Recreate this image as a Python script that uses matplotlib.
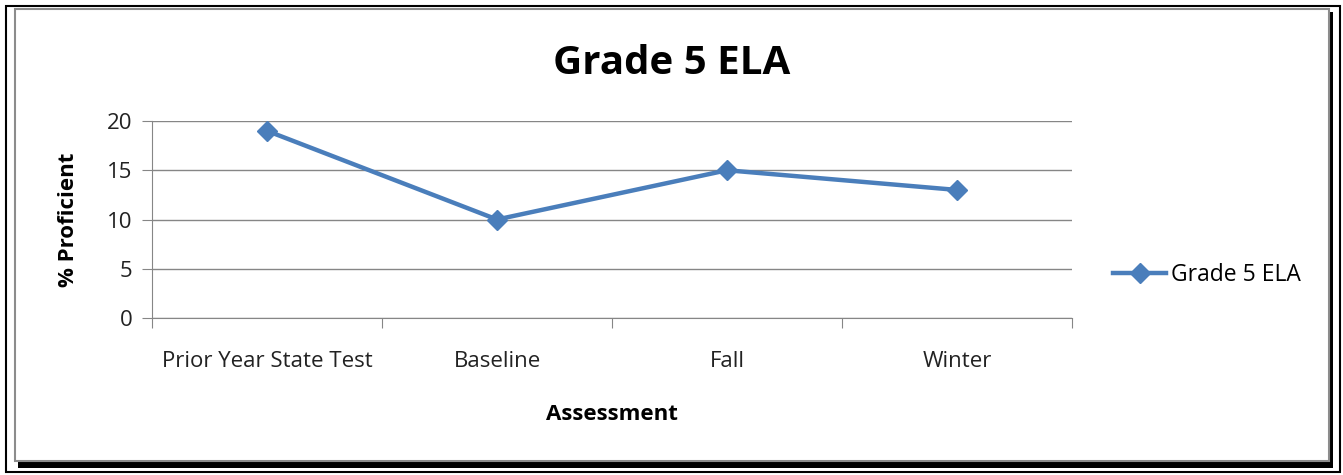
import numpy as np
import matplotlib.pyplot as plt
from matplotlib.patches import Rectangle

# chart data
assessments = ['Prior Year State Test', 'Baseline', 'Fall', 'Winter']
pct_proficient = [19, 10, 15, 13]
y_ticks = [0, 5, 10, 15, 20]

W, H = 1343, 475
line_color = '#4A7EBB'
grid_color = '#868686'
plt.rcParams['font.family'] = ['Open Sans', 'DejaVu Sans']

fig = plt.figure(figsize=(W / 100, H / 100), dpi=100)


def px_box(x0, y0, x1, y1):
    # pixel coords (top-left origin) -> figure fraction
    return [x0 / W, 1 - y1 / H, (x1 - x0) / W, (y1 - y0) / H]


def add_rect(x0, y0, x1, y1, **kw):
    l, b, w, h = px_box(x0, y0, x1, y1)
    fig.add_artist(Rectangle((l, b), w, h, transform=fig.transFigure,
                             zorder=-10, **kw))


# frame: outer black line, shadow, inner gray box
add_rect(6, 6, 1340, 472, fill=False, edgecolor='black', linewidth=1.5)
add_rect(18, 12, 1333, 468, facecolor='black', edgecolor='none')
add_rect(15, 9, 1329, 461, facecolor='white', edgecolor='#8c8c8c', linewidth=1.5)

ax = fig.add_axes(px_box(152, 121, 1072, 318))
ax.set_facecolor('none')
ax.set_zorder(5)

x = np.arange(len(assessments)) + 0.5
ax.plot(x, pct_proficient, color=line_color, linewidth=3.2, marker='D',
        markersize=10, label='Grade 5 ELA', zorder=3, clip_on=False)

ax.set_xlim(0, len(assessments))
ax.set_ylim(0, 20)
ax.set_yticks(y_ticks)
ax.yaxis.grid(True, color=grid_color, linewidth=1)
ax.set_axisbelow(True)

# category boundaries as tick marks, labels at centres
ax.set_xticks(np.arange(len(assessments) + 1))
ax.set_xticklabels([])
ax.set_xticks(x, minor=True)
ax.set_xticklabels(assessments, minor=True, fontsize=16, color='#222222')
ax.tick_params(axis='x', which='major', length=7, color=grid_color, direction='out')
ax.tick_params(axis='x', which='minor', length=0, pad=24)
ax.tick_params(axis='y', length=7, color=grid_color, labelsize=16,
               labelcolor='#222222', pad=7)

for side in ['top', 'right']:
    ax.spines[side].set_visible(False)
for side in ['left', 'bottom']:
    ax.spines[side].set_color(grid_color)

ax.set_xlabel('Assessment', fontsize=16, fontweight='bold', labelpad=23)
ax.set_ylabel('% Proficient', fontsize=16, fontweight='bold', labelpad=20)

fig.text(672 / W, 1 - 64 / H, 'Grade 5 ELA', fontsize=29, fontweight='bold',
         ha='center', va='center')

ax.legend(loc='center left', bbox_to_anchor=(1.045, 0.22), frameon=False,
          fontsize=16.5, handlelength=2.3, handletextpad=0.2,
          borderaxespad=0, borderpad=0)

fig.savefig('out.png', dpi=100)
